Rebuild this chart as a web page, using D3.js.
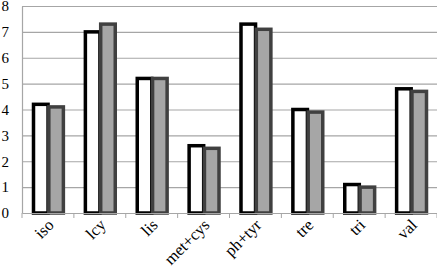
<!DOCTYPE html>
<html>
<head>
<meta charset="utf-8">
<script src="https://cdn.jsdelivr.net/npm/d3@7"></script>
<style>
  body { margin: 0; background: #fff; }
  svg { display: block; }
</style>
</head>
<body>
<div id="chart"></div>
<script>
// amino acid categories and the two series
const categories = ["iso", "lcy", "lis", "met+cys", "ph+tyr", "tre", "tri", "val"];
const seriesA = [4.2, 7.0, 5.2, 2.6, 7.3, 4.0, 1.1, 4.8];
const seriesB = [4.1, 7.3, 5.2, 2.5, 7.1, 3.9, 1.0, 4.7];
const yTicks = [0, 1, 2, 3, 4, 5, 6, 7, 8];

const W = 437, H = 274;
const margin = { top: 6, right: 0, bottom: 61, left: 22 };
const width = W - margin.left - margin.right;
const height = H - margin.top - margin.bottom;

const svg = d3.select("#chart").append("svg")
    .attr("width", W)
    .attr("height", H);

const g = svg.append("g")
    .attr("transform", `translate(${margin.left},${margin.top})`);

const x = d3.scaleBand().domain(categories).range([0, width]);
const inner = d3.scaleBand().domain(["a", "b"]).range([11.5, x.bandwidth() - 10.5]).paddingInner(0.05);
const y = d3.scaleLinear().domain([0, 8]).range([height, 0]);

// grid lines
g.append("g")
    .selectAll("line")
    .data(yTicks.slice(1))
    .enter()
    .append("line")
    .attr("x1", 0)
    .attr("x2", width)
    .attr("y1", d => y(d) + 0.5)
    .attr("y2", d => y(d) + 0.5)
    .attr("stroke", "#a6a6a6")
    .attr("stroke-width", 1.2);

// y axis
const yAxis = g.append("g")
    .call(d3.axisLeft(y).tickValues(yTicks).tickSize(0).tickPadding(13));
yAxis.select(".domain").attr("stroke", "#a6a6a6").attr("stroke-width", 1.2);
yAxis.selectAll("text")
    .attr("font-family", "'Liberation Serif', 'Times New Roman', serif")
    .attr("font-size", "15px")
    .attr("fill", "#000");

// bars
const groups = g.selectAll(".grp")
    .data(categories.map((c, i) => ({ c, a: seriesA[i], b: seriesB[i] })))
    .enter()
    .append("g")
    .attr("transform", d => `translate(${x(d.c)},0)`);

groups.append("rect")
    .attr("x", inner("a"))
    .attr("width", inner.bandwidth())
    .attr("y", d => y(d.a))
    .attr("height", d => height - y(d.a))
    .attr("fill", "#fff")
    .attr("stroke", "#000")
    .attr("stroke-width", 3.5);

groups.append("rect")
    .attr("x", inner("b"))
    .attr("width", inner.bandwidth())
    .attr("y", d => y(d.b))
    .attr("height", d => height - y(d.b))
    .attr("fill", "#a6a6a6")
    .attr("stroke", "#404040")
    .attr("stroke-width", 3.5);

// x axis
const xAxis = g.append("g")
    .attr("transform", `translate(0,${height})`)
    .call(d3.axisBottom(x).tickSize(0).tickPadding(0));
xAxis.select(".domain").attr("stroke", "#a6a6a6").attr("stroke-width", 1.2);
xAxis.append("g")
    .selectAll("line")
    .data(d3.range(categories.length + 1))
    .enter()
    .append("line")
    .attr("x1", i => i * x.bandwidth())
    .attr("x2", i => i * x.bandwidth())
    .attr("y1", 0)
    .attr("y2", 5)
    .attr("stroke", "#a6a6a6");
xAxis.selectAll(".tick text")
    .attr("font-family", "'Liberation Serif', 'Times New Roman', serif")
    .attr("font-size", "16.5px")
    .attr("fill", "#000")
    .attr("text-anchor", "end")
    .attr("dy", "0")
    .attr("transform", "translate(7,13) rotate(-45)");
</script>
</body>
</html>
